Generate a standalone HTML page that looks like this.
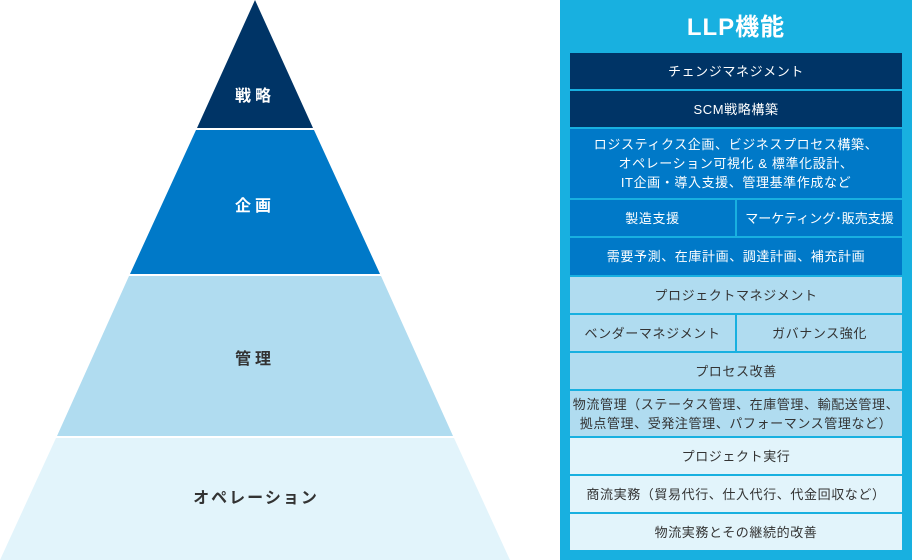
<!DOCTYPE html>
<html><head><meta charset="utf-8"><style>
body{margin:0;width:912px;height:560px;background:#fff;overflow:hidden;position:relative;font-family:"Liberation Sans","Noto Sans CJK JP",sans-serif}
.p{position:absolute;left:560px;top:0;width:352px;height:560px;background:#18b0e0}
.t{position:absolute;left:560px;width:352px;top:10px;text-align:center;color:#fff;font-size:24px;font-weight:bold;line-height:36px;letter-spacing:1px}
.b{position:absolute;display:flex;align-items:center;justify-content:center;text-align:center;font-size:13px;line-height:19px;letter-spacing:0.6px;white-space:nowrap}
.d{background:#003466;color:#fff}.m{background:#0079c8;color:#fff}.l{background:#b0dcf0;color:#333}.x{background:#e2f4fb;color:#333}
</style></head><body>
<svg width="560" height="560" style="position:absolute;left:0;top:0">
<polygon points="255,0 313,128 197,128" fill="#003466"/>
<polygon points="196,130 314,130 380,274 130,274" fill="#0079c8"/>
<polygon points="129,276 381,276 453,436 57,436" fill="#b0dcf0"/>
<polygon points="56,438 454,438 510,560 0,560" fill="#e2f4fb"/>
<text x="255" y="101" text-anchor="middle" fill="#fff" font-size="16" font-weight="bold" letter-spacing="4">戦略</text>
<text x="255" y="211" text-anchor="middle" fill="#fff" font-size="16" font-weight="bold" letter-spacing="4">企画</text>
<text x="255" y="364" text-anchor="middle" fill="#333" font-size="16" font-weight="bold" letter-spacing="4">管理</text>
<text x="256" y="503" text-anchor="middle" fill="#333" font-size="16" font-weight="bold" letter-spacing="2">オペレーション</text>
</svg>
<div class="p"></div>
<div class="t">LLP機能</div>
<div class="b d" style="left:570px;top:53px;width:332px;height:36px">チェンジマネジメント</div>
<div class="b d" style="left:570px;top:91px;width:332px;height:36px">SCM戦略構築</div>
<div class="b m" style="left:570px;top:129px;width:332px;height:69px">ロジスティクス企画、ビジネスプロセス構築、<br>オペレーション可視化 &amp; 標準化設計、<br>IT企画・導入支援、管理基準作成など</div>
<div class="b m" style="left:570px;top:200px;width:165px;height:36px">製造支援</div>
<div class="b m" style="left:737px;top:200px;width:165px;height:36px;letter-spacing:0">マーケティング･販売支援</div>
<div class="b m" style="left:570px;top:238px;width:332px;height:37px">需要予測、在庫計画、調達計画、補充計画</div>
<div class="b l" style="left:570px;top:277px;width:332px;height:36px">プロジェクトマネジメント</div>
<div class="b l" style="left:570px;top:315px;width:165px;height:36px">ベンダーマネジメント</div>
<div class="b l" style="left:737px;top:315px;width:165px;height:36px">ガバナンス強化</div>
<div class="b l" style="left:570px;top:353px;width:332px;height:36px">プロセス改善</div>
<div class="b l" style="left:570px;top:391px;width:332px;height:45px">物流管理（ステータス管理、在庫管理、輸配送管理、<br>拠点管理、受発注管理、パフォーマンス管理など）</div>
<div class="b x" style="left:570px;top:438px;width:332px;height:36px">プロジェクト実行</div>
<div class="b x" style="left:570px;top:476px;width:332px;height:36px">商流実務（貿易代行、仕入代行、代金回収など）</div>
<div class="b x" style="left:570px;top:514px;width:332px;height:36px">物流実務とその継続的改善</div>
</body></html>
